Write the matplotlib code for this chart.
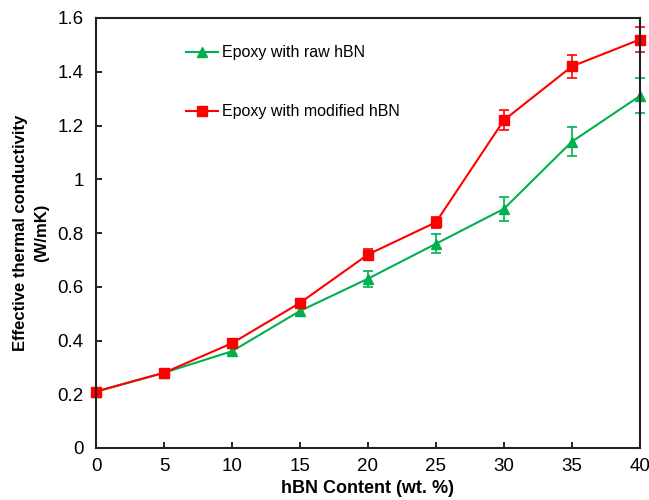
import numpy as np
import matplotlib.pyplot as plt
from matplotlib.lines import Line2D

plt.rcParams["font.family"] = ["Liberation Sans", "DejaVu Sans"]

# ── Data ──────────────────────────────────────────────────────────────────────
content = [0, 5, 10, 15, 20, 25, 30, 35, 40]

raw_k = [0.21, 0.28, 0.36, 0.51, 0.63, 0.76, 0.89, 1.14, 1.31]
raw_err = [0.01, 0.01, 0.012, 0.02, 0.03, 0.035, 0.045, 0.055, 0.065]

mod_k = [0.21, 0.28, 0.39, 0.54, 0.72, 0.84, 1.22, 1.42, 1.52]
mod_err = [0.01, 0.01, 0.012, 0.012, 0.02, 0.02, 0.038, 0.042, 0.048]

x_ticks = [0, 5, 10, 15, 20, 25, 30, 35, 40]
y_ticks = [0, 0.2, 0.4, 0.6, 0.8, 1.0, 1.2, 1.4, 1.6]
y_tick_labels = ["0", "0.2", "0.4", "0.6", "0.8", "1", "1.2", "1.4", "1.6"]

GREEN = "#00B050"
RED = "#FF0000"

# ── Plot ──────────────────────────────────────────────────────────────────────
fig = plt.figure(figsize=(6.49, 5.0), dpi=100)
ax = fig.add_axes([0.148, 0.104, 0.838, 0.86])

series = [
    (raw_k, raw_err, GREEN, "^", 7.5, "Epoxy with raw hBN"),
    (mod_k, mod_err, RED, "s", 6.5, "Epoxy with modified hBN"),
]
handles = []
for vals, err, col, mk, ms, lab in series:
    line, caps, bars = ax.errorbar(
        content, vals, yerr=err,
        color=col, linewidth=1.5, marker=mk, markersize=ms,
        capsize=3.5, capthick=1.2, elinewidth=1.2,
    )
    for art in [line, *caps, *bars]:
        art.set_clip_on(False)
    handles.append(Line2D([], [], color=col, linewidth=1.5, marker=mk,
                          markersize=ms, label=lab))

ax.set_xlim(0, 40)
ax.set_ylim(0, 1.6)
ax.set_xticks(x_ticks)
ax.set_yticks(y_ticks)
ax.set_yticklabels(y_tick_labels)
ax.tick_params(direction="in", length=4, width=1.2, labelsize=13.5)
ax.tick_params(axis="x", pad=7)
ax.tick_params(axis="y", pad=9)

for sp in ax.spines.values():
    sp.set_linewidth(1.5)
    sp.set_color("#222222")

ax.set_xlabel("hBN Content (wt. %)", fontsize=13, fontweight="bold", labelpad=4)
ax.set_ylabel("Effective thermal conductivity\n(W/mK)", fontsize=12,
              fontweight="bold", labelpad=6, linespacing=1.5)

ax.legend(
    handles=handles,
    loc="upper left", bbox_to_anchor=(0.15, 0.955), frameon=False,
    fontsize=11.5, handlelength=2.0, handletextpad=0.3, labelspacing=2.75,
    borderpad=0,
)

fig.savefig("out.png", dpi=100)
